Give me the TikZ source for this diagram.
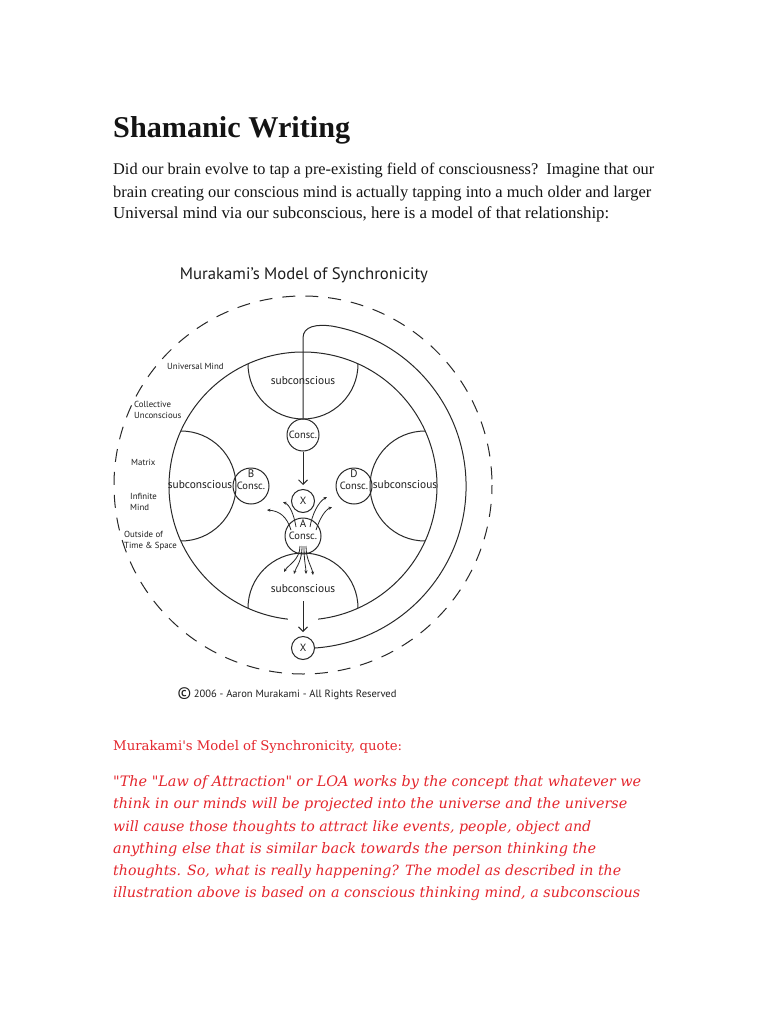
\documentclass[tikz,border=0pt]{standalone}
\usepackage{fontspec}
\setmainfont{Liberation Serif}
\newfontfamily\diagfont{PT Sans}
\newfontfamily\quotefont{DejaVu Serif}
\usetikzlibrary{arrows.meta}
\newcommand\fitw[2]{\resizebox{#1}{!}{#2}}
\definecolor{linec}{RGB}{40,40,40}
\definecolor{textc}{RGB}{30,30,30}
\definecolor{bodyc}{RGB}{20,20,20}
\definecolor{quotered}{RGB}{228,38,45}
\begin{document}
\begin{tikzpicture}[x=1pt,y=-1pt,
  ln/.style={draw=linec, line width=1pt},
  cc/.style={circle, draw=linec, line width=1pt, inner sep=0pt, text=textc,
    font=\diagfont\fontsize{10.5}{11}\selectfont},
  letter/.style={inner sep=0pt, text=textc, font=\diagfont\fontsize{11}{11}\selectfont},
  lbl/.style={font=\diagfont\fontsize{8.8}{11}\selectfont, text=textc, align=left, inner sep=0pt, anchor=west},
  sublbl/.style={font=\diagfont\fontsize{11.4}{12}\selectfont, text=textc, inner sep=0pt},
  vtip/.style={-{Straight Barb[length=4.5pt,width=9pt]}},
  dtip/.style={-{Stealth[length=3.5pt,width=3pt]}},
  bodyline/.style={anchor=base west, inner sep=0pt, text=bodyc},
  redline/.style={anchor=base west, inner sep=0pt, text=quotered}
]
\useasboundingbox (0,0) rectangle (768,1024);
\fill[white] (0,0) rectangle (768,1024);

% heading and intro text
\node[bodyline] (title) at (113,138) {\fitw{237pt}{\bfseries Shamanic Writing}};
\node[bodyline] (p1) at (113,175) {\fitw{541pt}{Did our brain evolve to tap a pre-existing field of consciousness?\ \ Imagine that our}};
\node[bodyline] (p2) at (113,197) {\fitw{538pt}{brain creating our conscious mind is actually tapping into a much older and larger}};
\node[bodyline] (p3) at (113,219) {\fitw{496pt}{Universal mind via our subconscious, here is a model of that relationship:}};

% diagram title
\node[anchor=base, inner sep=0pt, text=textc] (dtitle) at (304,279) {\fitw{248pt}{\diagfont Murakami’s Model of Synchronicity}};

% geometry
\coordinate (O) at (303,486);
\coordinate (O2) at (303,485);
\coordinate (Ts) at (303,364);
\coordinate (Ls) at (181,486);
\coordinate (Rs) at (425,486);
\coordinate (Bs) at (303,608);

% dashed outer circle
\draw[ln, dash pattern=on 13pt off 10pt, dash phase=4pt] (O2) circle[radius=189];

% main circle with a gap at the bottom
\draw[ln] ([shift={(96.5:134)}]O) arc[start angle=96.5, end angle=443.5, radius=134];

% subconscious half discs
\draw[ln] ([shift={(180:55)}]Ts) arc[start angle=180, end angle=0, radius=55];
\draw[ln] ([shift={(-90:55)}]Ls) arc[start angle=-90, end angle=90, radius=55];
\draw[ln] ([shift={(90:55)}]Rs) arc[start angle=90, end angle=270, radius=55];
\draw[ln] ([shift={(180:55)}]Bs) arc[start angle=180, end angle=360, radius=55];

% consciousness circles
\node[cc, minimum size=32pt] (C1) at (303,435) {Consc.};
\node[cc, minimum size=36pt] (B) at (251,486) {Consc.};
\node[letter] (Bl) at (251,474) {B};
\node[cc, minimum size=36pt] (D) at (354,486) {Consc.};
\node[letter] (Dl) at (354,474) {D};
\node[cc, minimum size=36pt] (A) at (303,536) {Consc.};
\node[letter] (Al) at (303,524) {A};
\node[cc, minimum size=23pt] (Xt) at (303,501) {X};
\node[cc, minimum size=23pt] (Xb) at (303,648) {X};

% big loop from lower X back to the top consciousness
\draw[ln] (Xb.east) arc[start angle=86, end angle=-80, radius=162.4]
  .. controls (317,324) and (303,326) .. (303,338) -- (C1.north);

% arrows to the X circles
\draw[ln, vtip, shorten >=4pt] (C1.south) -- (Xt.north);
\coordinate (bsub) at (303,601);
\draw[ln, vtip, shorten >=4pt] (bsub) -- (Xb.north);

% small radiating arrows from A
\coordinate (u1s) at (291,530); \coordinate (u1e) at (267,510);
\coordinate (u2s) at (296,527); \coordinate (u2e) at (283,502);
\coordinate (u3s) at (310,527); \coordinate (u3e) at (327,497);
\coordinate (u4s) at (316,530); \coordinate (u4e) at (332,507);
\draw[ln, line width=0.8pt, dtip] (u1s) .. controls (287,517) and (280,511) .. (u1e);
\draw[ln, line width=0.8pt, dtip] (u2s) .. controls (294,515) and (290,505) .. (u2e);
\draw[ln, line width=0.8pt, dtip] (u3s) .. controls (312,515) and (318,502) .. (u3e);
\draw[ln, line width=0.8pt, dtip] (u4s) .. controls (320,518) and (325,510) .. (u4e);
\coordinate (d1s) at (300,546); \coordinate (d1e) at (284,572);
\coordinate (d2s) at (302,546); \coordinate (d2e) at (294,574);
\coordinate (d3s) at (304,546); \coordinate (d3e) at (306,574);
\coordinate (d4s) at (306,546); \coordinate (d4e) at (313,575);
\draw[ln, line width=0.8pt, dtip] (d1s) .. controls (300,560) and (288,565) .. (d1e);
\draw[ln, line width=0.8pt, dtip] (d2s) .. controls (302,562) and (296,567) .. (d2e);
\draw[ln, line width=0.8pt, dtip] (d3s) .. controls (304,562) and (306,567) .. (d3e);
\draw[ln, line width=0.8pt, dtip] (d4s) .. controls (306,560) and (312,567) .. (d4e);

% subconscious labels
\node[sublbl] (st) at (303,381) {subconscious};
\node[sublbl] (sl) at (200,485) {subconscious};
\node[sublbl] (sr) at (405,485) {subconscious};
\node[sublbl] (sb) at (303,589) {subconscious};

% side labels
\node[lbl] (ulab) at (167,366) {Universal Mind};
\node[lbl] (clab) at (134,410) {Collective\\Unconscious};
\node[lbl] (mlab) at (131,462) {Matrix};
\node[lbl] (ilab) at (130,502) {Infinite\\Mind};
\node[lbl] (olab) at (124,541) {Outside of\\Time \& Space};

% copyright
\node[anchor=base, inner sep=0pt, text=textc] (copy) at (287,697) {\fitw{219pt}{\diagfont \raisebox{-0.15em}{\scalebox{1.6}{©}}\ 2006 - Aaron Murakami - All Rights Reserved}};

% red quote text
\node[redline] (q0) at (113,750) {\fitw{289pt}{\quotefont Murakami's Model of Synchronicity, quote:}};
\node[redline] (q1) at (113,786) {\fitw{528pt}{\quotefont\itshape "The "Law of Attraction" or LOA works by the concept that whatever we}};
\node[redline] (q2) at (113,808) {\fitw{514pt}{\quotefont\itshape think in our minds will be projected into the universe and the universe}};
\node[redline] (q3) at (113,831) {\fitw{478pt}{\quotefont\itshape will cause those thoughts to attract like events, people, object and}};
\node[redline] (q4) at (113,853) {\fitw{483pt}{\quotefont\itshape anything else that is similar back towards the person thinking the}};
\node[redline] (q5) at (113,875) {\fitw{508pt}{\quotefont\itshape thoughts. So, what is really happening? The model as described in the}};
\node[redline] (q6) at (113,897) {\fitw{527pt}{\quotefont\itshape illustration above is based on a conscious thinking mind, a subconscious}};
\end{tikzpicture}
\end{document}
